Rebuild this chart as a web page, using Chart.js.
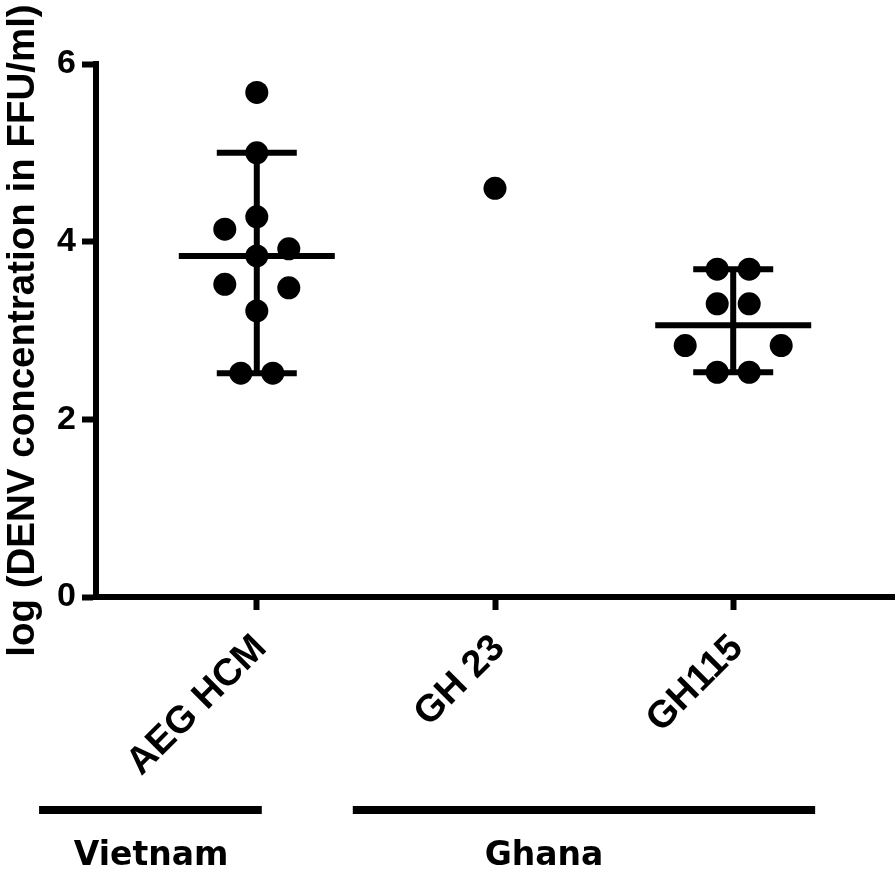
<!DOCTYPE html>
<html><head><meta charset="utf-8">
<script src="https://cdn.jsdelivr.net/npm/chart.js@4"></script>
<style>html,body{margin:0;padding:0;background:#fff}</style>
</head><body>
<canvas id="c" width="896" height="872"></canvas>
<script>
// ---- data ----
const categories = ['AEG HCM', 'GH 23', 'GH115'];
const aegValues = [5.68, 5.00, 4.28, 4.14, 3.92, 3.84, 3.52, 3.48, 3.22, 2.52, 2.52];
const gh23Values = [4.60];
const gh115Values = [3.69, 3.69, 3.30, 3.30, 2.83, 2.83, 2.53, 2.53];
const medians = [3.84, null, 3.06];
const whiskerLow = [2.52, null, 2.53];
const whiskerHigh = [5.00, null, 3.69];
const yTicks = [0, 2, 4, 6];
const groupNames = ['Vietnam', 'Ghana'];

// ---- layout / style constants ----
const X_MIN = 0.325, X_MAX = 3.675, Y_MIN = 0, Y_MAX = 6;
const PLOT_W = 798, PLOT_H = 533;
const PX_PER_X = PLOT_W / (X_MAX - X_MIN);
const PX_PER_Y = PLOT_H / (Y_MAX - Y_MIN);
const DOT_STEP_PX = 32, DOT_MIN_DIST_PX = 30;
const MEDIAN_HALF = 78 / PX_PER_X, CAP_HALF = 40 / PX_PER_X;

// simple beeswarm: ascending, ties spread symmetrically
function swarm(values) {
  const idx = values.map((v, i) => ({ v, i })).sort((a, b) => a.v - b.v);
  const placed = [];
  const slots = new Array(values.length).fill(0);
  const collides = (slot, v) => placed.some(p =>
    Math.hypot((slot - p.slot) * DOT_STEP_PX, (v - p.v) * PX_PER_Y) < DOT_MIN_DIST_PX);
  let k = 0;
  while (k < idx.length) {
    let n = 1;
    while (k + n < idx.length && idx[k + n].v === idx[k].v) n++;
    const v = idx[k].v;
    let chosen = null;
    if (n === 1) {
      for (const s of [0, 1, -1, 2, -2, 3, -3]) { if (!collides(s, v)) { chosen = [s]; break; } }
      if (!chosen) chosen = [0];
    } else {
      for (const m of [1, 3, 5, 7]) {
        const c = []; for (let j = 0; j < n; j++) c.push((j - (n - 1) / 2) * m);
        if (c.every(s => !collides(s, v))) { chosen = c; break; }
      }
      if (!chosen) { chosen = []; for (let j = 0; j < n; j++) chosen.push(j - (n - 1) / 2); }
    }
    for (let j = 0; j < n; j++) { slots[idx[k + j].i] = chosen[j]; placed.push({ slot: chosen[j], v }); }
    k += n;
  }
  return slots;
}

const groupsValues = [aegValues, gh23Values, gh115Values];
const dots = [];
groupsValues.forEach((vals, gi) => {
  const slots = swarm(vals);
  vals.forEach((v, j) => dots.push({ x: gi + 1 + slots[j] * DOT_STEP_PX / PX_PER_X, y: v }));
});

const segs = [];
categories.forEach((c, i) => {
  const cx = i + 1;
  if (medians[i] != null) {
    segs.push({ x: cx - MEDIAN_HALF, y: medians[i] }, { x: cx + MEDIAN_HALF, y: medians[i] }, { x: cx, y: null });
  }
  if (whiskerLow[i] != null && whiskerHigh[i] != null) {
    segs.push({ x: cx, y: whiskerLow[i] }, { x: cx, y: whiskerHigh[i] }, { x: cx, y: null });
    segs.push({ x: cx - CAP_HALF, y: whiskerLow[i] }, { x: cx + CAP_HALF, y: whiskerLow[i] }, { x: cx, y: null });
    segs.push({ x: cx - CAP_HALF, y: whiskerHigh[i] }, { x: cx + CAP_HALF, y: whiskerHigh[i] }, { x: cx, y: null });
  }
});

const groupPlugin = {
  id: 'groups',
  afterDraw(chart, args, opts) {
    const { ctx, scales: { x }, chartArea } = chart;
    ctx.save();
    opts.spans.forEach((g, i) => {
      const y = chartArea.bottom + opts.barOffset;
      ctx.fillStyle = '#000';
      const x1 = x.getPixelForValue(g.from), x2 = x.getPixelForValue(g.to);
      ctx.fillRect(x1, y - 4, x2 - x1, 8);
      ctx.font = 'bold 33px "DejaVu Sans"';
      ctx.textAlign = 'center';
      ctx.textBaseline = 'alphabetic';
      ctx.fillText(groupNames[i], x.getPixelForValue(g.label), chartArea.bottom + opts.labelOffset);
    });
    ctx.restore();
  }
};

const axisFont = { family: '"Liberation Sans", Arial, sans-serif', weight: 'bold' };

new Chart(document.getElementById('c'), {
  type: 'scatter',
  data: {
    datasets: [
      { type: 'line', data: segs, borderColor: '#000', borderWidth: 6, pointRadius: 0, pointHoverRadius: 0,
        showLine: true, spanGaps: false, fill: false, order: 2, borderCapStyle: 'butt' },
      { data: dots, backgroundColor: '#000', borderWidth: 0, pointRadius: 11.5, pointHoverRadius: 11.5, order: 1 }
    ]
  },
  options: {
    responsive: false, animation: false, events: [],
    layout: { autoPadding: false, padding: { top: 64, right: 2, bottom: 0, left: 0 } },
    plugins: {
      legend: { display: false }, tooltip: { enabled: false },
      groups: { barOffset: 213, labelOffset: 268,
        spans: [{ from: 0.086, to: 1.021, label: 0.556 }, { from: 1.403, to: 3.344, label: 2.206 }] }
    },
    scales: {
      x: {
        type: 'linear', min: X_MIN, max: X_MAX,
        afterBuildTicks: ax => { ax.ticks = categories.map((c, i) => ({ value: i + 1 })); },
        afterFit: s => { s.height = 275; s.paddingLeft = 0; s.paddingRight = 0; },
        border: { display: true, width: 6, color: '#000' },
        grid: { drawOnChartArea: false, drawTicks: true, tickLength: 13, tickWidth: 6, tickColor: '#000' },
        ticks: { callback: v => categories[Math.round(v) - 1] ?? '', autoSkip: false, maxRotation: 45, minRotation: 45,
          font: { ...axisFont, size: 38 }, color: '#000', padding: 16, labelOffset: 4 }
      },
      y: {
        min: Y_MIN, max: Y_MAX,
        afterBuildTicks: ax => { ax.ticks = yTicks.map(v => ({ value: v })); },
        afterFit: s => { s.width = 96; },
        border: { display: true, width: 6, color: '#000' },
        grid: { drawOnChartArea: false, drawTicks: true, tickLength: 14, tickWidth: 6, tickColor: '#000' },
        ticks: { font: { ...axisFont, size: 34 }, color: '#000', padding: 6 },
        title: { display: true, text: 'log (DENV concentration in FFU/ml)', color: '#000',
          font: { ...axisFont, size: 38.5 }, padding: { top: 0, bottom: 0 } }
      }
    }
  },
  plugins: [groupPlugin]
});
</script>
</body></html>
